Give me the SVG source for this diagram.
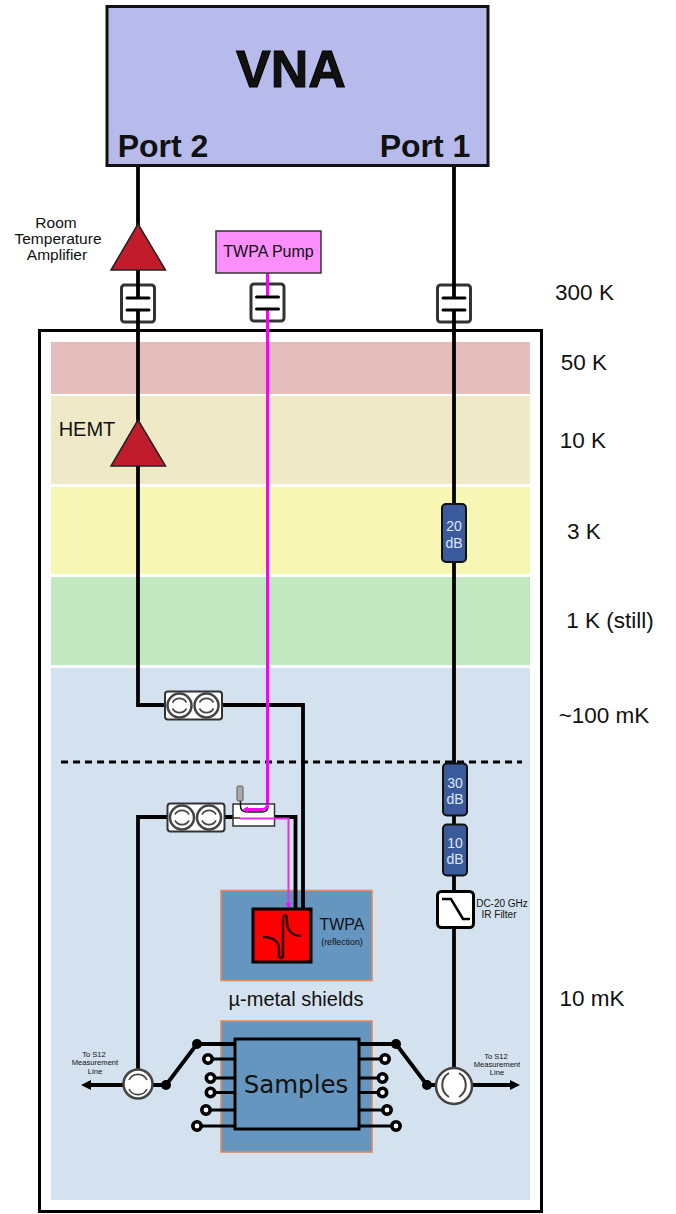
<svg xmlns="http://www.w3.org/2000/svg" width="676" height="1214" viewBox="0 0 676 1214">
<style>
text{font-family:"Liberation Sans",Arial,sans-serif;fill:#111;text-anchor:middle}
.w{fill:none;stroke:#000;stroke-width:3.8}
.t{fill:none;stroke:#000;stroke-width:3}
.p{fill:none;stroke:#f0f;stroke-width:3}
.amp{fill:#c11c2c;stroke:#222;stroke-width:1.5}
.cap{fill:#fff;stroke:#333;stroke-width:3}
.bar{stroke:#000;stroke-width:3;stroke-linecap:round}
.att{fill:#3a5a9c;stroke:#111;stroke-width:2}
.db{fill:#dfe6f3;font-size:14px}
.shield{fill:#6596bf;stroke:#e08a5a;stroke-width:1.6}
.circ{fill:#fff;stroke:#444;stroke-width:2.5}
.arc{fill:none;stroke:#444;stroke-width:1.6}
.iso{fill:#fff;stroke:#333;stroke-width:2}
.lab{font-size:22.500px}
.small{font-size:7.600px;fill:#333}
.open{fill:#fff;stroke:#000;stroke-width:3.6}
</style>
<defs>
<g id="c2"><circle r="12" class="circ"/><path class="arc" d="M-7,-3A8,8 0 0 1 7,-3M7,3A8,8 0 0 1 -7,3"/></g>
<g id="dc"><rect x="-16.500" y="-19" width="33" height="37" rx="3" class="cap"/></g>
<g id="plates"><line x1="-11" x2="11" y1="-6" y2="-6" class="bar"/><line x1="-11" x2="11" y1="6" y2="6" class="bar"/></g>
</defs>
<rect width="676" height="1214" fill="#fff"/>
<g id="fridge">
<rect x="39.500" y="330.500" width="502" height="881" fill="#fff" stroke="#000" stroke-width="3"/>
<rect x="51" y="342" width="479" height="52" fill="#e6bdbd"/>
<rect x="51" y="396" width="479" height="88" fill="#f0e9c8"/>
<rect x="51" y="487" width="479" height="87" fill="#f8f6b4"/>
<rect x="51" y="577" width="479" height="88" fill="#c1e8c1"/>
<rect x="51" y="668" width="479" height="532" fill="#d4e1ee"/>
<line x1="61" x2="522" y1="762" y2="762" stroke="#000" stroke-width="3" stroke-dasharray="7 5"/>
</g>
<g id="shields">
<rect x="221" y="890.500" width="151" height="90" class="shield"/>
<rect x="221" y="1021" width="151" height="131" class="shield"/>
</g>
<g id="dc-blocks"><use href="#dc" x="138" y="304"/><use href="#dc" x="267.500" y="303"/><use href="#dc" x="454" y="304"/></g>
<g id="connectors">
<path class="w" d="M138,165V298M138,310V705H165M222,705H303V909M138,1070V817H167M225,817H233M275,817H295.500V909"/>
<path class="w" d="M454,165V298M454,310V1070"/>
<path class="w" d="M85,1085H124M148,1085H166L197,1044H234M436,1085H427L396,1044H360M472,1085H510"/>
<path d="M81,1085l10,-5v10zM520,1085l-10,-5v10z" fill="#000"/>
<path class="p" d="M267.500,273V297M267.500,309V806"/>
</g>
<g id="dc-plates"><use href="#plates" x="138" y="304"/><use href="#plates" x="267.500" y="303"/><use href="#plates" x="454" y="304"/></g>
<g id="vna"><rect x="107" y="6.500" width="381" height="159" fill="#b6bbeb" stroke="#111" stroke-width="3"/>
<text x="291" y="87" font-size="52" font-weight="700" fill="#000" stroke="#000" stroke-width="1">VNA</text>
<text x="163" y="157" font-size="32" font-weight="700">Port 2</text>
<text x="425" y="157" font-size="32" font-weight="700">Port 1</text></g>
<g id="rt-amp"><path class="amp" d="M138,224L165.500,270H111Z"/>
<text x="56" y="228" font-size="15.500">Room</text><text x="58" y="244" font-size="15.500">Temperature</text><text x="57" y="260" font-size="15.500">Amplifier</text></g>
<g id="hemt"><path class="amp" d="M138,420L165.500,466H111Z"/><text x="87" y="436" font-size="20">HEMT</text></g>
<g id="pump"><rect x="216" y="231" width="105" height="42" fill="#fc8ffb" stroke="#333" stroke-width="1.500"/><text x="268.500" y="257" font-size="16">TWPA Pump</text></g>
<g id="att20"><rect x="442" y="504" width="24" height="58" rx="4" class="att"/><text class="db" x="454" y="531">20</text><text class="db" x="454" y="548">dB</text></g>
<g id="att30"><rect x="443" y="763.500" width="24" height="52" rx="4" class="att"/><text class="db" x="455" y="788">30</text><text class="db" x="455" y="804.300">dB</text></g>
<g id="att10"><rect x="443" y="824.500" width="24" height="51" rx="4" class="att"/><text class="db" x="455" y="848">10</text><text class="db" x="455" y="864.300">dB</text></g>
<g id="filter"><rect x="437.500" y="891.500" width="36" height="36" rx="4" class="iso" style="stroke:#000;stroke-width:3"/><path d="M442,899H451L463,919H470" fill="none" stroke="#000" stroke-width="2.500"/>
<text x="502" y="907" font-size="10" fill="#333">DC-20 GHz</text><text x="499" y="918" font-size="10" fill="#333">IR Filter</text></g>
<g id="iso1"><rect x="165" y="691.500" width="57" height="28" rx="3" class="iso"/><use href="#c2" x="179.500" y="705.500"/><use href="#c2" x="206.500" y="705.500"/></g>
<g id="iso2"><rect x="167.500" y="803.500" width="57" height="28" rx="3" class="iso"/><use href="#c2" x="182" y="817.500"/><use href="#c2" x="209" y="817.500"/></g>
<g id="coupler"><rect x="233" y="804" width="41.500" height="22" fill="#fff" stroke="#333" stroke-width="1.500"/><line x1="233" x2="240" y1="818" y2="818" stroke="#333" stroke-width="1.500"/>
<path d="M240.500,800V806Q240.500,812 247,812H262Q268,812 268,806" fill="none" stroke="#111" stroke-width="1.500"/>
<path class="p" d="M267.500,804Q267.500,809.500 262,809.500H246"/><path d="M242,809.500l6,-3v6z" fill="#f0f"/>
<rect x="237" y="786" width="6" height="15" rx="1.500" fill="#aaa" stroke="#555" stroke-width="1"/>
<path d="M240,818.500H288.500V907" fill="none" stroke="#e62ee6" stroke-width="2"/><path d="M288.500,909l-2.500,-6h5z" fill="#f0f"/></g>
<g id="twpa"><rect x="253" y="909" width="58" height="53" fill="#f00" stroke="#000" stroke-width="3"/>
<path d="M263,937C273,937 279,941 279,950V955Q279,958 281,958Q283,958 283,955V922Q283,915 285,915Q287,915 287,922C287,930 292,936 301,936" fill="none" stroke="#300" stroke-width="2.500"/>
<text x="342" y="930" font-size="16">TWPA</text><text x="342" y="945" font-size="8.800">(reflection)</text></g>
<text id="mu" x="296" y="1006" font-size="20">µ-metal shields</text>
<g id="samples"><rect x="235" y="1039" width="124" height="90" fill="#6596bf" stroke="#000" stroke-width="3"/><text x="296" y="1093" font-size="24.500" style="font-family:'DejaVu Sans',sans-serif">Samples</text>
<path class="t" d="M234,1059H208M234,1078H211M234,1092.500H211M234,1110H206M234,1126H197M360,1059H385M360,1078H382.500M360,1092.500H382.500M360,1110H387M360,1126H396"/>
<g class="open"><circle cx="208" cy="1059" r="4.200"/><circle cx="210.500" cy="1078" r="4.200"/><circle cx="210.500" cy="1092.500" r="4.200"/><circle cx="206" cy="1110" r="4.200"/><circle cx="197" cy="1126" r="4.200"/><circle cx="385" cy="1059" r="4.200"/><circle cx="382.500" cy="1078" r="4.200"/><circle cx="382.500" cy="1092.500" r="4.200"/><circle cx="387" cy="1110" r="4.200"/><circle cx="396" cy="1126" r="4.200"/></g>
<g fill="#000"><circle cx="166" cy="1085" r="5"/><circle cx="197" cy="1044" r="5"/><circle cx="396" cy="1044" r="5"/><circle cx="427" cy="1085" r="5"/></g></g>
<g id="circ-left"><circle cx="138" cy="1084" r="14.500" class="circ"/><path class="arc" d="M129,1080A10,10 0 0 1 147,1080M147,1089A10,10 0 0 1 129,1089"/><g class="small"><text x="94" y="1057">To S12</text><text x="95" y="1065">Measurement</text><text x="95" y="1074">Line</text></g></g>
<g id="circ-right"><circle cx="454" cy="1086" r="18" class="circ"/><path class="arc" d="M449,1073A14,14 0 0 0 449,1097M459,1073A14,14 0 0 1 459,1097" style="stroke-width:2"/><g class="small"><text x="496" y="1059">To S12</text><text x="497" y="1067">Measurement</text><text x="497" y="1075">Line</text></g></g>
<g id="temps" class="lab">
<text x="584.500" y="300">300 K</text><text x="584" y="370">50 K</text><text x="583" y="448">10 K</text><text x="584" y="539">3 K</text><text x="610" y="628">1 K (still)</text><text x="604" y="723">~100 mK</text><text x="592" y="1006">10 mK</text></g>
</svg>
